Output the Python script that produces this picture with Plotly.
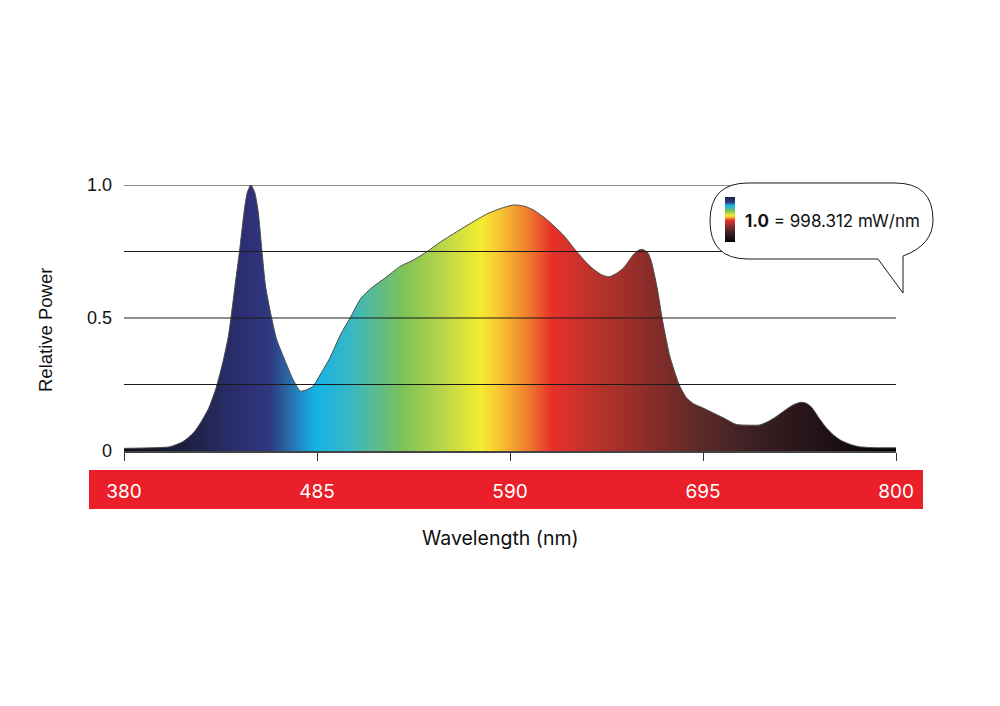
import plotly.graph_objects as go

# ---- data ----
wavelength = [380, 395, 405, 412, 418, 422, 426, 430, 434, 437, 440, 443, 445, 447, 449, 451,
              453, 455, 457, 460, 463, 467, 472, 476, 480, 483, 487, 492, 498, 503, 509, 515,
              522, 530, 538, 545, 552, 560, 570, 578, 585, 592, 598, 603, 610, 619, 626, 632,
              636, 640, 644, 648, 652, 657, 660, 662, 665, 667, 670, 673, 677, 682, 686, 690,
              694, 700, 706, 713, 720, 726, 731, 735, 740, 744, 748, 751, 754, 758, 762, 766,
              770, 775, 780, 790, 800]
relative_power = [0.010, 0.012, 0.016, 0.035, 0.070, 0.110, 0.160, 0.235, 0.340, 0.440, 0.600,
                  0.760, 0.880, 0.970, 1.000, 0.975, 0.900, 0.755, 0.620, 0.510, 0.420, 0.350,
                  0.268, 0.225, 0.232, 0.244, 0.290, 0.350, 0.440, 0.500, 0.575, 0.615, 0.650,
                  0.693, 0.720, 0.750, 0.785, 0.820, 0.862, 0.893, 0.912, 0.925, 0.920, 0.905,
                  0.870, 0.812, 0.752, 0.705, 0.680, 0.662, 0.655, 0.668, 0.690, 0.737, 0.755,
                  0.758, 0.745, 0.710, 0.615, 0.490, 0.355, 0.250, 0.200, 0.177, 0.165, 0.145,
                  0.125, 0.100, 0.097, 0.098, 0.113, 0.130, 0.155, 0.173, 0.183, 0.180, 0.165,
                  0.125, 0.088, 0.060, 0.040, 0.025, 0.016, 0.012, 0.012]

x_ticks = [380, 485, 590, 695, 800]
y_ticks = [0, 0.5, 1.0]
y_tick_text = ["0", "0.5", "1.0"]
grid_values = [0.25, 0.5, 0.75, 1.0]

spectrum_wl = [380, 414, 432, 450, 460, 469, 476, 484, 505, 519, 532, 552, 574, 585, 599, 613,
               639, 666, 693, 721, 748, 775, 800]
spectrum_colors = ["#0f0f14", "#1c2142", "#252a5e", "#2e3178", "#2d3a80", "#2a67a6", "#1f8cc8",
                   "#12b2e6", "#3cb8c0", "#60bb88", "#7ec356", "#b5d44a", "#f4ec30", "#f6c232",
                   "#f08030", "#e6302a", "#b5322b", "#8a2c2a", "#5c2a28", "#3c2024", "#2a161a",
                   "#140c0e", "#000000"]

legend_label = "<b>1.0</b> = 998.312 mW/nm"

# ---- geometry helpers (screen pixel -> paper) ----
W, H = 1000, 706
OFF = 8  # page offset of the figure in the browser
L, T = 124 - OFF, 185 - OFF
PW, PH = 772, 266
R, B = W - L - PW, H - T - PH


def px(x):
    return (x - OFF - L) / PW


def py(y):
    return (T + PH - (y - OFF)) / PH


wl0, wl1 = x_ticks[0], x_ticks[-1]
spec_scale = [[(w - wl0) / (wl1 - wl0), c] for w, c in zip(spectrum_wl, spectrum_colors)]
# legend bar: navy at top, black at bottom
legend_scale = [[1 - (w - spectrum_wl[1]) / (wl1 - spectrum_wl[1]), c]
                for w, c in zip(spectrum_wl[1:], spectrum_colors[1:])][::-1]

fig = go.Figure()
fig.add_trace(go.Scatter(
    x=wavelength, y=relative_power, mode="lines",
    line=dict(color="#4a4a4a", width=1, shape="spline", smoothing=0.6),
    fill="tozeroy",
    fillgradient=dict(type="horizontal", colorscale=spec_scale, start=wl0, stop=wl1),
    hoverinfo="skip", showlegend=False,
))
# legend colour bar
fig.add_trace(go.Scatter(
    x=[wl0], y=[0], mode="markers",
    marker=dict(size=0.1, color=[0], cmin=0, cmax=1, colorscale=legend_scale, showscale=True,
                colorbar=dict(x=px(730), xanchor="center", y=py(220), yanchor="middle",
                              thickness=10, thicknessmode="pixels", len=45, lenmode="pixels",
                              outlinewidth=0, showticklabels=False, ticks="", xpad=0, ypad=0)),
    hoverinfo="skip", showlegend=False,
))

shapes = []
# red band behind x tick labels
shapes.append(dict(type="rect", xref="paper", yref="paper", layer="below",
                   x0=px(89), x1=px(923), y0=py(509), y1=py(470),
                   fillcolor="#ea1f29", line=dict(width=0)))
# gridlines drawn over the fill
for v in grid_values:
    shapes.append(dict(type="line", xref="paper", yref="y", layer="above",
                       x0=0, x1=1, y0=v, y1=v, line=dict(color="#1a1a1a", width=1)))


def P(x, y):
    return f"{px(x):.5f},{py(y):.5f}"


r = 38
path = (f"M {P(710 + r, 183)} L {P(895, 183)} Q {P(933, 183)} {P(933, 220)} "
        f"Q {P(933, 245)} {P(903, 256)} L {P(903, 293)} L {P(878, 259)} "
        f"L {P(710 + r, 259)} Q {P(710, 259)} {P(710, 221)} Q {P(710, 183)} {P(710 + r, 183)} Z")
shapes.append(dict(type="path", xref="paper", yref="paper", layer="above", path=path,
                   fillcolor="white", line=dict(color="#1a1a1a", width=1)))

annotations = [
    dict(text=legend_label, xref="paper", yref="paper", x=px(743), y=py(221),
         xanchor="left", yanchor="middle", showarrow=False,
         font=dict(family="Inter, Liberation Sans, sans-serif", size=17, color="#111")),
    dict(text="Relative Power", xref="paper", yref="paper", x=px(45), y=py(330),
         xanchor="center", yanchor="middle", textangle=-90, showarrow=False,
         font=dict(family="Liberation Sans, Arial, sans-serif", size=18.5, color="#111")),
    dict(text="Wavelength (nm)", xref="paper", yref="paper", x=px(500), y=py(538),
         xanchor="center", yanchor="middle", showarrow=False,
         font=dict(family="Inter, Liberation Sans, sans-serif", size=19.5, color="#111")),
]

fig.update_layout(
    width=W, height=H,
    margin=dict(l=L, r=R, t=T, b=B, autoexpand=False),
    paper_bgcolor="white", plot_bgcolor="white",
    shapes=shapes, annotations=annotations,
    xaxis=dict(range=[wl0, wl1], tickvals=x_ticks, ticktext=[str(t) for t in x_ticks],
               showgrid=False, zeroline=False, showline=True, linecolor="#444", linewidth=1.5,
               ticks="outside", ticklen=8, tickwidth=1, tickcolor="#333",
               ticklabelstandoff=14,
               tickfont=dict(family="Inter, Liberation Sans, sans-serif", size=19, color="white")),
    yaxis=dict(range=[0, 1.0], tickvals=y_ticks, ticktext=y_tick_text,
               showgrid=False, zeroline=False, showline=False, ticks="",
               ticklabelstandoff=11,
               tickfont=dict(family="Liberation Sans, Arial, sans-serif", size=18, color="#111")),
)

fig.write_html("out.html")
